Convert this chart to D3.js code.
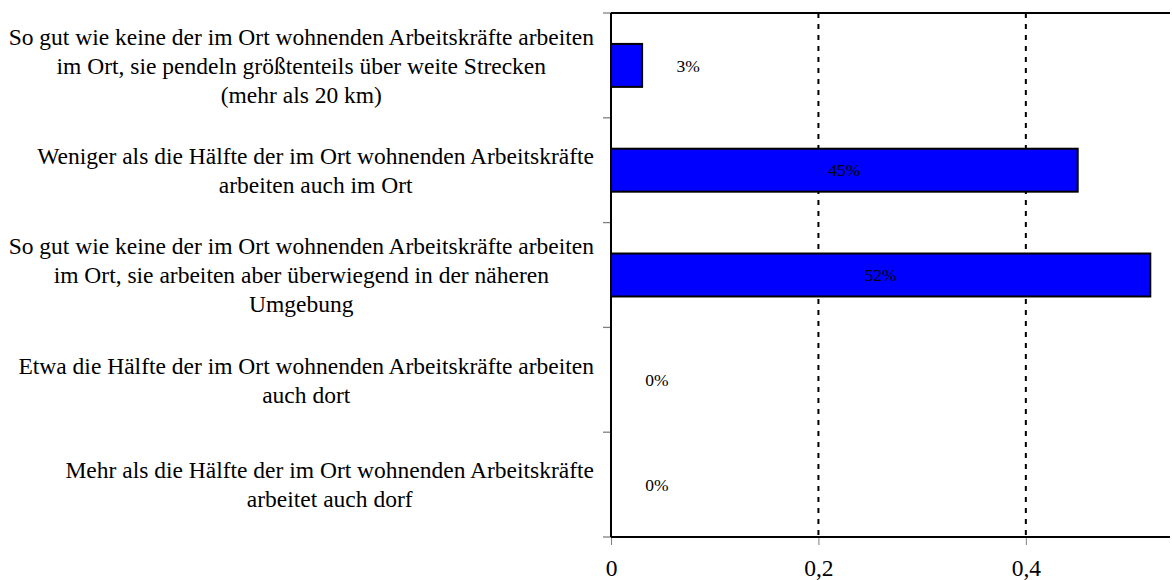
<!DOCTYPE html>
<html>
<head>
<meta charset="utf-8">
<script src="https://cdn.jsdelivr.net/npm/d3@7"></script>
<style>
  body { margin: 0; background: #fff; }
  svg { display: block; font-family: "Liberation Serif", "Times New Roman", serif; }
</style>
</head>
<body>
<svg id="chart" width="1172" height="580"></svg>
<script>
// ----------

const CATEGORIES = [
  ["So gut wie keine der im Ort wohnenden Arbeitskräfte arbeiten", "im Ort, sie pendeln größtenteils über weite Strecken", "(mehr als 20 km)"],
  ["Weniger als die Hälfte der im Ort wohnenden Arbeitskräfte", "arbeiten auch im Ort"],
  ["So gut wie keine der im Ort wohnenden Arbeitskräfte arbeiten", "im Ort, sie arbeiten aber überwiegend in der näheren", "Umgebung"],
  ["Etwa die Hälfte der im Ort wohnenden Arbeitskräfte arbeiten", "auch dort"],
  ["Mehr als die Hälfte der im Ort wohnenden Arbeitskräfte", "arbeitet auch dorf"]
];
const VALUES = [0.03, 0.45, 0.52, 0, 0];
const TICK_VALUES = [0, 0.2, 0.4];

const BAR_FILL = "#0000ff";
const TICK_GRAY = "#808080";

// ----------

const svg = d3.select("#chart");
const margin = { top: 13, right: 2, bottom: 43, left: 611 };
const width = +svg.attr("width") - margin.left - margin.right;
const height = +svg.attr("height") - margin.top - margin.bottom;

const x = d3.scaleLinear().domain([0, 0.539]).range([0, width]);
const y = d3
  .scaleBand()
  .domain(d3.range(VALUES.length))
  .range([0, height])
  .paddingInner(0.59)
  .paddingOuter(0.295);
const band = d3.scaleBand().domain(d3.range(VALUES.length)).range([0, height]);

const g = svg.append("g").attr("transform", "translate(" + margin.left + "," + margin.top + ")");

// dashed grid lines
g.selectAll("line.grid")
  .data(TICK_VALUES.filter((d) => d > 0))
  .enter()
  .append("line")
  .attr("class", "grid")
  .attr("x1", (d) => x(d))
  .attr("x2", (d) => x(d))
  .attr("y1", 0)
  .attr("y2", height)
  .attr("stroke", "#000")
  .attr("stroke-width", 2)
  .attr("stroke-dasharray", "5,6");

// bars (zero values draw nothing)
g.selectAll("rect.bar")
  .data(VALUES.map((v, i) => ({ v: v, i: i })).filter((d) => d.v > 0))
  .enter()
  .append("rect")
  .attr("class", "bar")
  .attr("x", x(0))
  .attr("y", (d) => y(d.i))
  .attr("width", (d) => x(d.v))
  .attr("height", y.bandwidth())
  .attr("fill", BAR_FILL)
  .attr("stroke", "#000")
  .attr("stroke-width", 2);

// value labels: centred inside long bars, beside short ones
g.selectAll("text.value")
  .data(VALUES)
  .enter()
  .append("text")
  .attr("class", "value")
  .attr("x", (d) => (d >= 0.1 ? x(d / 2) : x(d) + 46))
  .attr("y", (d, i) => band(i) + band.bandwidth() / 2)
  .attr("dy", "0.35em")
  .attr("text-anchor", "middle")
  .attr("font-size", "17.5px")
  .attr("fill", "#000")
  .text((d) => d3.format(".0%")(d));

// frame: top line
g.append("line")
  .attr("x1", 0)
  .attr("x2", width)
  .attr("y1", 0)
  .attr("y2", 0)
  .attr("stroke", "#000")
  .attr("stroke-width", 2);

// x axis
const xAxis = g
  .append("g")
  .attr("transform", "translate(0," + height + ")")
  .call(
    d3
      .axisBottom(x)
      .tickValues(TICK_VALUES)
      .tickSize(8)
      .tickPadding(14)
      .tickFormat((d) => (d === 0 ? "0" : d3.format(".1f")(d).replace(".", ",")))
  );
xAxis.select(".domain").remove();
xAxis.selectAll(".tick line").attr("stroke", TICK_GRAY).attr("y1", -1);
xAxis.selectAll(".tick text").attr("font-family", "Liberation Serif").attr("font-size", "23.5px").attr("fill", "#000");

// y ticks at band boundaries
g.selectAll("line.ytick")
  .data(d3.range(VALUES.length + 1))
  .enter()
  .append("line")
  .attr("class", "ytick")
  .attr("x1", -8)
  .attr("x2", 0)
  .attr("y1", (d) => (d < VALUES.length ? band(d) : height))
  .attr("y2", (d) => (d < VALUES.length ? band(d) : height))
  .attr("stroke", TICK_GRAY)
  .attr("stroke-width", 1.3);

// axis lines
g.append("line")
  .attr("x1", 0)
  .attr("x2", width)
  .attr("y1", height)
  .attr("y2", height)
  .attr("stroke", "#000")
  .attr("stroke-width", 2);
g.append("line")
  .attr("x1", 0)
  .attr("x2", 0)
  .attr("y1", 0)
  .attr("y2", height)
  .attr("stroke", "#000")
  .attr("stroke-width", 2);

// category labels: block right aligned, lines centred inside the block
const LINE_HEIGHT = 29;
const labelRight = -17;
CATEGORIES.forEach(function (lines, i) {
  const t = g
    .append("text")
    .attr("font-size", "23.5px")
    .attr("fill", "#000")
    .attr("text-anchor", "middle");
  const spans = lines.map(function (line, k) {
    return t
      .append("tspan")
      .attr("y", band(i) + band.bandwidth() / 2 + (k - (lines.length - 1) / 2) * LINE_HEIGHT)
      .attr("dy", "0.35em")
      .text(line);
  });
  const maxW = d3.max(spans, (s) => s.node().getComputedTextLength());
  spans.forEach((s) => s.attr("x", labelRight - maxW / 2));
});
</script>
</body>
</html>
